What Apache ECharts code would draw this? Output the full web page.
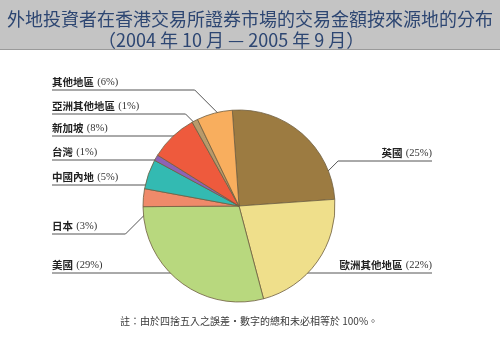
<!DOCTYPE html>
<html>
<head>
<meta charset="utf-8">
<script src="https://cdn.jsdelivr.net/npm/echarts@6/dist/echarts.min.js"></script>
<style>
  html, body { margin: 0; padding: 0; background: #ffffff; }
  #chart { width: 500px; height: 342px; }
</style>
</head>
<body>
<div id="chart"></div>
<script>
// Regions and their share (%) of turnover, listed clockwise from the top
const categories = ['英國', '歐洲其他地區', '美國', '日本', '中國內地', '台灣', '新加坡', '亞洲其他地區', '其他地區'];
const shares = [25, 22, 29, 3, 5, 1, 8, 1, 6];
const sliceColors = ['#9c7b41', '#efdf8b', '#b8d87e', '#ef8a6a', '#33bab2', '#8d62b5', '#ee5a3d', '#b89a6b', '#f8ae5e'];

const titleLines = ['外地投資者在香港交易所證券市場的交易金額按來源地的分布', '（2004 年 10 月 — 2005 年 9 月）'];
const footnote = '註：由於四捨五入之誤差・數字的總和未必相等於 100%。';

// Label guide layout: the row each label sits on, its side, and where the leader enters the slice
const labelRowY = [161, 273, 273, 234, 185, 160, 136, 114, 90];
const labelSide = ['right', 'right', 'left', 'left', 'left', 'left', 'left', 'left', 'left'];
const anchorT = [0.84, null, null, 0.3, null, null, null, 0.72, 0.63];
const anchorR = [0.89, 0.84, 0.83, 0.85, 0.87, 0.97, 0.93, 0.9, 0.97];

const CX = 239, CY = 206, R = 96;
const START = -4;            // degrees clockwise from 12 o'clock
const LEFT_X = 52, RIGHT_X = 432;

const total = shares.reduce((a, b) => a + b, 0);
const sliceStart = [];
let acc = 0;
shares.forEach(v => { sliceStart.push(START + acc / total * 360); acc += v; });

function polar(deg, r) {
  const a = deg * Math.PI / 180;
  return [CX + r * Math.sin(a), CY - r * Math.cos(a)];
}

function anchorPoint(i) {
  const rowY = labelRowY[i];
  if (anchorT[i] === null) {
    const r = anchorR[i] * R;
    const dy = rowY - CY;
    const dx = Math.sqrt(Math.max(r * r - dy * dy, 0));
    return [labelSide[i] === 'left' ? CX - dx : CX + dx, rowY];
  }
  const span = shares[i] / total * 360;
  return polar(sliceStart[i] + anchorT[i] * span, anchorR[i] * R);
}

const chart = echarts.init(document.getElementById('chart'), null, { renderer: 'canvas' });

const titleFont = { color: '#2d4672', fontSize: 18, fontWeight: 'normal', fontFamily: '"Noto Sans CJK TC", sans-serif' };

chart.setOption({
  backgroundColor: '#ffffff',
  animation: false,
  graphic: [
    { type: 'rect', shape: { x: 0, y: 0, width: 500, height: 49 }, style: { fill: '#c4c4c4' }, z: 0 },
    { type: 'line', shape: { x1: 0, y1: 49.5, x2: 500, y2: 49.5 }, style: { stroke: '#9a9a9a', lineWidth: 1 }, z: 1 },
    { type: 'text', left: 120, top: 316,
      style: { text: footnote, fill: '#3a3a3a', fontSize: 10, fontFamily: '"Noto Sans CJK TC", sans-serif' } }
  ],
  title: [
    { text: titleLines[0], left: 'center', top: 5, textStyle: titleFont },
    { text: titleLines[1], left: 93, top: 26, textStyle: titleFont }
  ],
  series: [{
    type: 'pie',
    center: [CX, CY],
    radius: R,
    startAngle: 90 - START,
    clockwise: true,
    avoidLabelOverlap: false,
    itemStyle: { borderColor: '#6e5e40', borderWidth: 0.8 },
    label: {
      show: true,
      position: 'outside',
      formatter: p => '{n|' + p.name + '} {p|(' + p.value + '%)}',
      rich: {
        n: { fontSize: 10.5, fontWeight: 'bold', color: '#222', fontFamily: '"Noto Sans CJK TC", serif' },
        p: { fontSize: 10.5, color: '#333', fontFamily: '"Liberation Serif", serif' }
      }
    },
    labelLine: { show: true, lineStyle: { color: '#555', width: 1 } },
    labelLayout: function (params) {
      const i = params.dataIndex;
      const rowY = labelRowY[i];
      const left = labelSide[i] === 'left';
      const a = anchorPoint(i);
      const edgeX = left ? LEFT_X : RIGHT_X;
      const off = Math.abs(a[1] - rowY);
      const bendX = left ? a[0] - off : a[0] + off;
      return {
        x: edgeX,
        y: rowY - 2,
        align: left ? 'left' : 'right',
        verticalAlign: 'bottom',
        labelLinePoints: [a, [bendX, rowY], [edgeX, rowY]]
      };
    },
    data: categories.map((name, i) => ({
      name: name,
      value: shares[i],
      itemStyle: { color: sliceColors[i] }
    }))
  }]
});
</script>
</body>
</html>
